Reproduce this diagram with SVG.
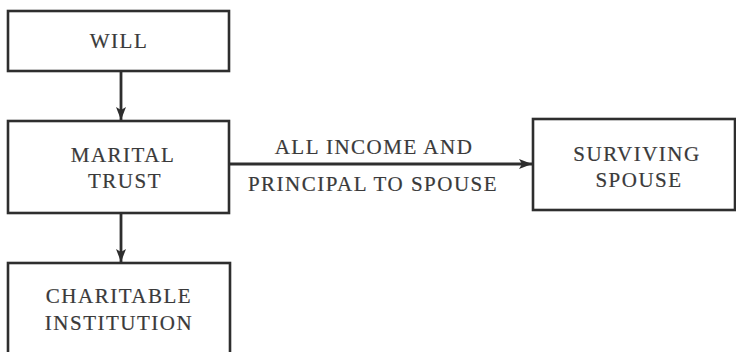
<svg xmlns="http://www.w3.org/2000/svg" width="736" height="352" viewBox="0 0 736 352">
<defs>
<style>
.box{fill:#fff;stroke:#2e2e2e;stroke-width:2.6}
.t{font-family:"Liberation Serif",serif;font-size:21px;letter-spacing:1.5px;fill:#3a3a3a;stroke:#3a3a3a;stroke-width:0.2;text-anchor:middle}
.c{stroke:#2e2e2e;stroke-width:2.8;fill:none}
</style>
<marker id="ah" viewBox="0 0 13 10" refX="13" refY="5" markerWidth="13" markerHeight="10" markerUnits="userSpaceOnUse" orient="auto">
<path d="M0,0 L13,5 L0,10 L3,5 Z" fill="#2e2e2e"/>
</marker>
</defs>
<rect width="736" height="352" fill="#fff"/>
<g id="connectors">
<line class="c" x1="121" y1="71" x2="121" y2="120" marker-end="url(#ah)"/>
<line class="c" x1="121" y1="213" x2="121" y2="262" marker-end="url(#ah)"/>
<line class="c" x1="229" y1="164" x2="532" y2="164" marker-end="url(#ah)"/>
<text class="t" x="374" y="154">ALL INCOME AND</text>
<text class="t" x="373" y="191">PRINCIPAL TO SPOUSE</text>
</g>
<g id="will">
<rect class="box" x="8" y="11" width="221" height="60"/>
<text class="t" x="119" y="48">WILL</text>
</g>
<g id="marital">
<rect class="box" x="8" y="121" width="221" height="92"/>
<text class="t" x="123" y="162">MARITAL</text>
<text class="t" x="125" y="188">TRUST</text>
</g>
<g id="charitable">
<rect class="box" x="8" y="263" width="222" height="100"/>
<text class="t" x="119" y="303">CHARITABLE</text>
<text class="t" x="119" y="330">INSTITUTION</text>
</g>
<g id="spouse">
<rect class="box" x="533" y="119" width="202" height="91"/>
<text class="t" x="637" y="161">SURVIVING</text>
<text class="t" x="639" y="187">SPOUSE</text>
</g>
</svg>
